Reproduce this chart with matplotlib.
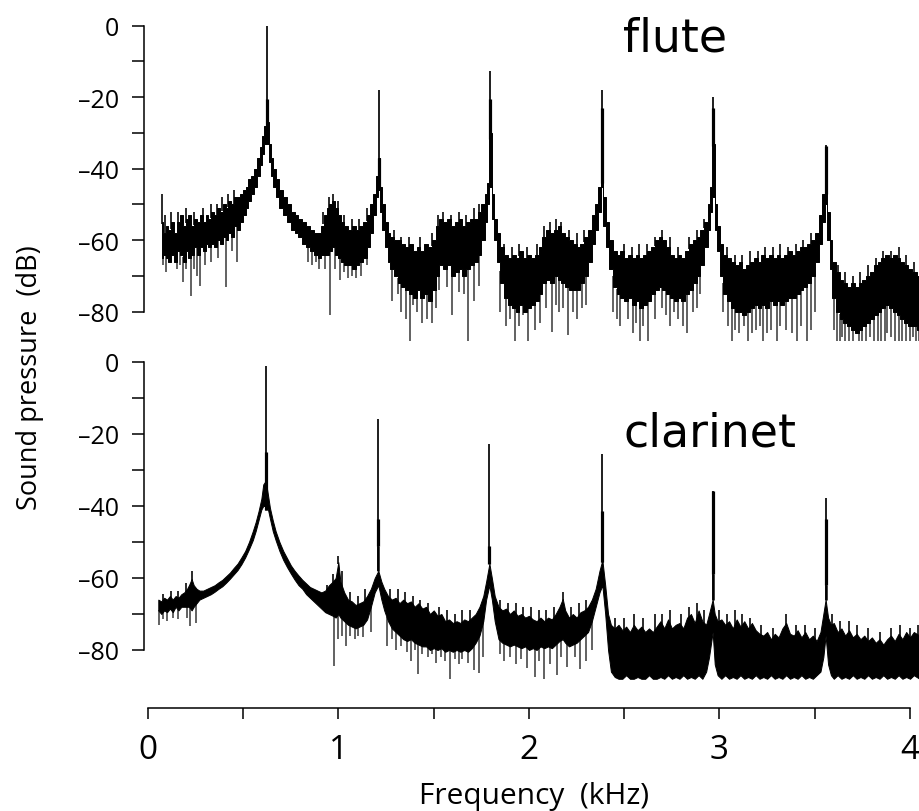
import numpy as np
import matplotlib
matplotlib.use("Agg")
import matplotlib.pyplot as plt

# ---------------- data ----------------
# flute spectrum: noise band (upper / lower edge) in dB vs frequency (kHz)
flute_f = [0.072, 0.085, 0.10, 0.115, 0.13, 0.145, 0.16, 0.175, 0.19, 0.205, 0.22, 0.235, 0.25, 0.265,
           0.28, 0.295, 0.31, 0.325, 0.34, 0.355, 0.37, 0.385, 0.40, 0.415, 0.43, 0.445, 0.46, 0.475,
           0.49, 0.505, 0.52, 0.535, 0.55, 0.565, 0.58, 0.595, 0.605, 0.615, 0.627, 0.64, 0.65, 0.665,
           0.68, 0.70, 0.72, 0.74, 0.76, 0.78, 0.80, 0.82, 0.84, 0.86, 0.88, 0.90, 0.915, 0.93, 0.945,
           0.96, 0.975, 0.99, 1.005, 1.02, 1.04, 1.06, 1.08, 1.10, 1.12, 1.14, 1.16, 1.175, 1.19, 1.20,
           1.213, 1.225, 1.235, 1.25, 1.265, 1.28, 1.30, 1.32, 1.34, 1.36, 1.38, 1.40, 1.42, 1.44, 1.46,
           1.48, 1.50, 1.52, 1.54, 1.56, 1.58, 1.60, 1.62, 1.64, 1.66, 1.68, 1.70, 1.72, 1.74, 1.76,
           1.775, 1.785, 1.797, 1.81, 1.825, 1.84, 1.86, 1.88, 1.90, 1.92, 1.94, 1.96, 1.98, 2.00, 2.02,
           2.04, 2.06, 2.08, 2.10, 2.12, 2.14, 2.16, 2.18, 2.20, 2.22, 2.24, 2.26, 2.28, 2.30, 2.32, 2.34,
           2.355, 2.37, 2.381, 2.395, 2.41, 2.43, 2.45, 2.47, 2.49, 2.51, 2.53, 2.55, 2.57, 2.59, 2.61,
           2.63, 2.65, 2.67, 2.69, 2.71, 2.73, 2.75, 2.77, 2.79, 2.81, 2.83, 2.85, 2.87, 2.89, 2.91, 2.93,
           2.945, 2.958, 2.968, 2.98, 2.995, 3.01, 3.03, 3.05, 3.07, 3.09, 3.11, 3.13, 3.15, 3.17, 3.19,
           3.21, 3.23, 3.25, 3.27, 3.29, 3.31, 3.33, 3.35, 3.37, 3.39, 3.41, 3.43, 3.45, 3.47, 3.49, 3.51,
           3.53, 3.545, 3.559, 3.57, 3.585, 3.60, 3.62, 3.64, 3.66, 3.68, 3.70, 3.72, 3.74, 3.76, 3.78,
           3.80, 3.82, 3.84, 3.86, 3.88, 3.90, 3.92, 3.94, 3.96, 3.98, 4.00, 4.02, 4.05]
flute_hi = [-55, -58, -56, -57, -55, -58, -55, -53, -56, -54, -53, -56, -54, -55,
            -53, -55, -53, -54, -52, -53, -51, -52, -50, -51, -49, -50, -48, -48,
            -47, -46, -45, -43, -42, -40, -37, -34, -31, -28, -27, -33, -37, -40,
            -43, -46, -48, -50, -52, -53, -54, -55, -56, -57, -58, -58, -56, -53, -51,
            -50, -49, -51, -53, -55, -56, -57, -56, -57, -56, -55, -53, -50, -47, -42,
            -37, -45, -50, -55, -58, -59, -60, -60, -61, -62, -61, -63, -62, -63, -61,
            -62, -60, -56, -54, -55, -54, -56, -55, -54, -56, -55, -54, -54, -52, -50,
            -47, -44, -30, -47, -54, -58, -62, -64, -65, -64, -65, -63, -65, -64, -65,
            -64, -62, -59, -57, -58, -57, -56, -58, -59, -60, -61, -62, -61, -59, -57, -53,
            -50, -45, -30, -48, -55, -60, -63, -64, -63, -65, -64, -65, -64, -65, -64,
            -63, -62, -60, -59, -60, -62, -64, -65, -64, -65, -63, -61, -60, -59, -57, -55,
            -50, -45, -33, -50, -56, -61, -64, -65, -66, -67, -66, -68, -67, -66, -65,
            -66, -64, -65, -64, -65, -64, -65, -64, -63, -64, -63, -62, -62, -61, -60, -58,
            -53, -47, -45, -52, -60, -66, -69, -71, -72, -73, -72, -73, -72, -71, -70,
            -69, -67, -66, -65, -64, -65, -64, -65, -66, -67, -68, -69, -70]
flute_lo = [-65, -64, -65, -66, -64, -66, -63, -64, -66, -63, -65, -64, -62, -64,
            -62, -63, -61, -62, -61, -62, -60, -61, -59, -60, -58, -59, -56, -57,
            -55, -53, -51, -49, -47, -45, -42, -39, -36, -33, -33, -38, -42, -45,
            -48, -51, -53, -55, -57, -58, -59, -61, -62, -63, -64, -65, -64, -64, -64,
            -63, -62, -64, -65, -66, -67, -67, -68, -67, -66, -65, -62, -58, -53, -48,
            -46, -52, -57, -62, -66, -68, -70, -72, -73, -74, -75, -76, -74, -76, -75,
            -77, -74, -70, -67, -68, -67, -70, -69, -68, -70, -68, -67, -66, -64, -60,
            -55, -50, -45, -54, -60, -66, -72, -76, -78, -79, -80, -78, -80, -79, -78,
            -77, -75, -72, -71, -72, -70, -71, -72, -73, -74, -74, -74, -72, -70, -66, -61,
            -57, -52, -45, -56, -62, -68, -73, -75, -76, -77, -76, -78, -77, -79, -78,
            -77, -75, -74, -73, -74, -75, -76, -77, -76, -77, -75, -74, -72, -70, -67, -62,
            -57, -52, -48, -57, -63, -70, -75, -77, -79, -80, -80, -81, -80, -79, -78,
            -79, -78, -79, -77, -78, -77, -78, -77, -76, -76, -75, -74, -73, -72, -70, -66,
            -61, -55, -50, -60, -68, -76, -80, -82, -83, -84, -85, -86, -85, -84, -83,
            -82, -81, -80, -79, -78, -79, -80, -81, -82, -83, -84, -84, -85]
# flute: narrow downward spikes below the band
flute_dip_f = [0.08, 0.095, 0.11, 0.15, 0.17, 0.184, 0.2, 0.226, 0.24, 0.255, 0.273, 0.30, 0.33, 0.37,
               0.408, 0.44, 0.466, 0.84, 0.86, 0.88, 0.90, 0.93, 0.955, 0.98, 1.01, 1.03, 1.05, 1.07,
               1.09, 1.12, 1.15, 1.279, 1.31, 1.33, 1.355, 1.375, 1.39, 1.41, 1.44, 1.463, 1.489, 1.51,
               1.53, 1.57, 1.594, 1.63, 1.66, 1.68, 1.71, 1.74, 1.85, 1.88, 1.9, 1.926, 1.95, 1.97,
               1.996, 2.03, 2.058, 2.09, 2.119, 2.14, 2.16, 2.18, 2.205, 2.23, 2.25, 2.28, 2.30, 2.44,
               2.46, 2.48, 2.52, 2.547, 2.56, 2.583, 2.6, 2.626, 2.66, 2.697, 2.72, 2.74, 2.76, 2.78,
               2.81, 2.828, 2.86, 2.88, 2.90, 3.02, 3.045, 3.064, 3.08, 3.10, 3.13, 3.15, 3.17, 3.19,
               3.21, 3.23, 3.25, 3.27, 3.30, 3.32, 3.35, 3.38, 3.405, 3.43, 3.458, 3.48, 3.50, 3.60,
               3.615, 3.63, 3.645, 3.66, 3.68, 3.70, 3.715, 3.73, 3.75, 3.77, 3.79, 3.81, 3.83, 3.85,
               3.87, 3.88, 3.90, 3.92, 3.94, 3.96, 3.98, 4.00, 4.015, 4.03, 4.045]
flute_dip_db = [-67, -69, -66, -68, -67, -71.6, -68, -75.5, -68, -70, -72.8, -67, -66, -65,
                -73, -63, -66, -66, -67, -66, -68, -68, -81, -68, -71, -69, -70.6, -70,
                -70.6, -70, -67, -77, -75, -80, -82, -88, -78, -80, -83, -82, -83, -79,
                -74, -73, -81, -74.5, -75, -88, -77, -72.8, -80, -84, -82, -88, -84, -81,
                -88, -85, -83, -79, -85.6, -78, -80, -79, -86.6, -80, -82, -79, -78, -80,
                -82, -84, -82, -86, -83, -88, -84, -88, -82, -79, -81, -84, -80, -82,
                -84, -86, -80, -79, -75, -80, -84, -88, -85, -86, -84, -88, -86, -85,
                -84, -88, -86, -85, -88, -84, -85, -86, -88, -84, -88, -85, -80, -85,
                -88, -88, -87, -88, -88, -88, -86, -88, -88, -88, -87, -88, -88, -88,
                -88, -86, -87, -88, -88, -88, -88, -88, -87, -88, -88]
# flute: narrow upward spikes above the band
flute_up_f = [0.072, 0.09, 0.12, 0.16, 0.20, 0.24, 0.29, 0.33, 0.36, 0.39, 0.42, 0.45, 0.92, 0.95,
              0.97, 1.00, 1.03, 1.07, 1.11, 1.15, 1.29, 1.33, 1.37, 1.43, 1.49, 1.52, 1.55, 1.59,
              1.63, 1.67, 1.71, 1.74, 1.87, 1.91, 1.95, 1.99, 2.04, 2.08, 2.11, 2.14, 2.17, 2.21,
              2.25, 2.29, 2.44, 2.50, 2.54, 2.58, 2.62, 2.66, 2.70, 2.74, 2.78, 2.84, 2.88, 2.92,
              3.04, 3.08, 3.12, 3.16, 3.20, 3.24, 3.28, 3.32, 3.36, 3.40, 3.44, 3.48, 3.62, 3.66,
              3.70, 3.74, 3.78, 3.82, 3.86, 3.90, 3.94, 3.98, 4.02]
flute_up_db = [-47, -53, -52, -52, -51, -52, -51, -50, -50, -48, -47, -46, -52, -48,
               -47, -49, -53, -54, -54, -51, -57, -59, -59, -59, -58, -53, -52, -53,
               -52, -53, -51, -50, -61, -62, -61, -62, -61, -56, -55, -54, -55, -57,
               -58, -57, -61, -61, -62, -61, -61, -59, -57, -59, -62, -59, -57, -54,
               -62, -64, -64, -63, -63, -62, -62, -61, -62, -61, -60, -58, -67, -69,
               -70, -69, -67, -65, -63, -63, -62, -64, -66]
# flute harmonics: top of peak and the darker core segment
flute_pk_f = [0.627, 1.213, 1.797, 2.381, 2.968, 3.559]
flute_pk_db = [0, -18, -12.8, -18, -20, -33.4]
flute_core_hi = [-20.5, -37, -20.5, -23, -23, -33.6]
flute_core_lo = [-29, -46, -31.7, -44, -33.6, -47]

# clarinet spectrum
clar_f = [0.054, 0.07, 0.085, 0.10, 0.115, 0.13, 0.145, 0.16, 0.175, 0.19, 0.205, 0.215, 0.229, 0.24,
          0.255, 0.27, 0.29, 0.31, 0.33, 0.35, 0.37, 0.39, 0.41, 0.43, 0.45, 0.47, 0.49, 0.51, 0.53,
          0.55, 0.565, 0.58, 0.595, 0.605, 0.618, 0.63, 0.64, 0.655, 0.67, 0.69, 0.71, 0.73, 0.75,
          0.77, 0.79, 0.81, 0.83, 0.85, 0.87, 0.89, 0.91, 0.93, 0.95, 0.97, 0.985, 0.999, 1.01, 1.03,
          1.05, 1.07, 1.09, 1.11, 1.13, 1.15, 1.17, 1.19, 1.209, 1.225, 1.24, 1.26, 1.28, 1.30, 1.32,
          1.34, 1.36, 1.38, 1.40, 1.42, 1.44, 1.46, 1.48, 1.50, 1.52, 1.54, 1.56, 1.58, 1.60, 1.62,
          1.64, 1.66, 1.68, 1.70, 1.72, 1.74, 1.76, 1.775, 1.792, 1.805, 1.82, 1.84, 1.86, 1.88, 1.90,
          1.92, 1.94, 1.96, 1.98, 2.00, 2.02, 2.04, 2.06, 2.08, 2.10, 2.12, 2.14, 2.16, 2.177, 2.19,
          2.21, 2.23, 2.25, 2.27, 2.29, 2.31, 2.33, 2.35, 2.37, 2.385, 2.40, 2.415, 2.43, 2.45, 2.47,
          2.49, 2.51, 2.53, 2.55, 2.57, 2.59, 2.61, 2.63, 2.65, 2.67, 2.69, 2.71, 2.73, 2.75, 2.77,
          2.79, 2.81, 2.83, 2.85, 2.87, 2.89, 2.91, 2.93, 2.945, 2.964, 2.975, 2.99, 3.01, 3.03, 3.05,
          3.07, 3.09, 3.11, 3.13, 3.15, 3.17, 3.19, 3.21, 3.23, 3.25, 3.27, 3.29, 3.31, 3.33, 3.35,
          3.37, 3.39, 3.41, 3.43, 3.45, 3.47, 3.49, 3.51, 3.53, 3.545, 3.557, 3.57, 3.585, 3.60, 3.62,
          3.64, 3.66, 3.68, 3.70, 3.72, 3.74, 3.76, 3.78, 3.80, 3.82, 3.84, 3.86, 3.88, 3.90, 3.92,
          3.94, 3.96, 3.98, 4.00, 4.02, 4.05]
clar_hi = [-66, -66.5, -65.5, -66, -65, -66, -65, -65.5, -64.5, -64, -63, -62, -60.3, -62,
           -63, -63.5, -63.5, -63, -62.5, -62, -61.2, -60.5, -59.5, -58.5, -57.2, -56, -54.3, -52.5, -50,
           -47, -44.5, -41.5, -38, -34, -33, -37, -40.5, -44, -47, -50, -52.5, -54.5, -56.5,
           -58, -59.3, -60.5, -61.5, -62.5, -63, -63.5, -64, -63.5, -62, -61, -60, -55.6, -61, -64,
           -66, -66.5, -67.5, -67, -66.5, -65, -63, -60, -58, -61, -63, -65, -66, -65.5, -67,
           -66, -67, -66.5, -68, -67, -68.5, -68, -70, -69, -70.5, -70, -72, -71.5, -72.5, -72,
           -72.5, -71.5, -72, -71, -70, -68, -65, -61, -56, -60, -65, -68, -69, -68.5, -70,
           -69, -70.5, -70, -71, -70.5, -71.5, -72, -71, -72, -71, -71.5, -70, -68, -65.8, -69,
           -71, -70, -71, -69.5, -69, -68, -66, -63, -58, -55, -62, -70, -73, -74, -73,
           -74.5, -73.5, -75, -73, -74.5, -73.5, -75, -74, -75, -73.5, -72, -74, -71.5, -74, -73,
           -72.5, -74, -71, -70, -72.5, -69, -72, -73, -70, -66, -70, -72, -71.5, -73, -72,
           -74, -71.5, -73.5, -72, -74, -72.5, -74.5, -75.5, -76, -75, -77, -75.5, -76.5, -74, -72.5,
           -75.5, -76, -74.5, -76.5, -75, -77, -76, -77.5, -75, -70, -66, -71, -73, -72.5, -75,
           -74, -76, -74.5, -76.5, -75.5, -77, -76, -77.5, -76.5, -78, -77, -78.5, -77, -76, -77.5,
           -75.5, -77, -75, -76.5, -75, -76]
clar_lo = [-69, -70, -69, -69.5, -68.5, -69.5, -68, -69, -68, -68, -68, -68, -69, -68,
           -67, -66, -65.5, -65, -64.5, -63.8, -63, -62.3, -61.3, -60.2, -59, -57.8, -56.2, -54.3, -52,
           -49.5, -47, -44, -41, -40, -40, -41, -43.5, -47, -49.5, -52.5, -55, -57, -58.8,
           -60.5, -62, -63, -64.5, -65.5, -66.5, -67.5, -68.5, -69.5, -70, -70.5, -71, -70, -71, -72,
           -73, -73.5, -74, -73.5, -73, -71.5, -68, -64, -62, -66, -69, -72, -74, -75, -76,
           -77, -77.5, -77, -78, -78.5, -79, -79, -80, -79.5, -80, -79.5, -80.5, -80, -80.5, -80,
           -80.5, -80, -80.5, -79.5, -78, -76, -72, -66, -62, -66, -72, -77, -78, -78.5, -79,
           -78.5, -79, -79.5, -79, -80, -79.5, -80, -79, -79.5, -79, -79.5, -78.5, -77.5, -77, -78,
           -79, -78.5, -78, -77, -76, -75, -72, -68, -64, -62, -70, -80, -86, -87.5, -88,
           -88, -87, -88, -88, -87.5, -88, -88, -87, -88, -88, -87.5, -88, -87, -88, -87.5,
           -88, -87, -88, -87.5, -88, -87, -88, -86, -82, -75, -84, -87, -88, -87, -88,
           -87.5, -88, -87, -88, -87.5, -88, -87, -88, -87.5, -88, -87, -88, -87.5, -88, -87,
           -88, -87.5, -88, -87, -88, -87.5, -88, -87, -86, -82, -76, -84, -87, -88, -87,
           -88, -87.5, -88, -87, -88, -87.5, -88, -87, -88, -87.5, -88, -87, -88, -87.5, -88,
           -87, -88, -87.5, -88, -87, -88]
clar_dip_f = [0.06, 0.08, 0.10, 0.13, 0.16, 0.205, 0.222, 0.25, 0.976, 1.00, 1.02, 1.04, 1.06, 1.085,
              1.1, 1.13, 1.168, 1.255, 1.28, 1.30, 1.33, 1.36, 1.38, 1.40, 1.419, 1.44, 1.47, 1.49,
              1.51, 1.54, 1.56, 1.585, 1.61, 1.63, 1.65, 1.68, 1.71, 1.74, 1.76, 1.85, 1.87, 1.9, 1.93,
              1.96, 1.99, 2.03, 2.05, 2.079, 2.11, 2.145, 2.17, 2.20, 2.24, 2.268, 2.30, 2.33]
clar_dip_db = [-73, -71.5, -72, -71, -71.5, -71, -73.3, -72.5, -84.5, -77, -76, -78.8, -76, -77,
               -76, -76.5, -75, -79, -77, -80, -79, -80.5, -83, -80, -86.7, -81, -82, -81,
               -83.5, -82, -83, -88.5, -82.5, -84, -82.5, -83.5, -85.6, -86.5, -82, -81, -83, -82, -84,
               -82.5, -85, -87.5, -83, -88, -84, -87, -82, -84.7, -82, -85.3, -83, -80]
clar_up_f = [0.08, 0.12, 0.16, 0.20, 0.229, 0.94, 0.97, 0.999, 1.02, 1.06, 1.10, 1.14, 1.27, 1.31,
             1.35, 1.39, 1.43, 1.47, 1.53, 1.57, 1.61, 1.65, 1.69, 1.85, 1.89, 1.93, 1.97, 2.01,
             2.05, 2.09, 2.13, 2.177, 2.22, 2.26, 2.30, 2.45, 2.50, 2.55, 2.60, 2.66, 2.70, 2.74,
             2.80, 2.84, 2.88, 2.92, 3.00, 3.04, 3.08, 3.12, 3.16, 3.22, 3.28, 3.35, 3.40, 3.45,
             3.50, 3.59, 3.63, 3.68, 3.72, 3.78, 3.84, 3.90, 3.95, 4.00, 4.04]
clar_up_db = [-64.5, -63.5, -63.5, -61.5, -58, -62, -59, -54, -58, -64, -65, -63, -63, -63,
              -64, -65, -66, -67, -68, -69, -70, -69, -69, -66, -67, -67, -68, -68,
              -69, -69, -68, -64, -68, -67, -66, -71, -71, -70, -71, -70, -70, -69,
              -70, -68, -67, -69, -69, -70, -69, -70, -71, -73, -74, -70, -73, -73,
              -74, -70, -72, -72, -73, -74, -75, -74, -73, -74, -73]
clar_pk_f = [0.618, 1.209, 1.792, 2.385, 2.964, 3.557]
clar_pk_db = [-1.2, -15.8, -22.8, -25.6, -35.7, -37.9]
clar_core_hi = [-25, -43.6, -51, -41.4, -35.7, -43.6]
clar_core_lo = [-41, -51, -56, -55.6, -58.9, -62]

x_ticks = [0, 0.5, 1, 1.5, 2, 2.5, 3, 3.5, 4]
x_ticklabels = ["0", "", "1", "", "2", "", "3", "", "4"]
y_ticks = [-80, -70, -60, -50, -40, -30, -20, -10, 0]
y_ticklabels = ["\u201380", "", "\u201360", "", "\u201340", "", "\u201320", "", "0"]

# ---------------- figure ----------------
W, H = 920, 812
fig = plt.figure(figsize=(W / 100, H / 100), dpi=100)


def box(x0, y0, x1, y1):
    return [x0 / W, 1 - y1 / H, (x1 - x0) / W, (y1 - y0) / H]


XMAX = (920 - 148) / 190.5
lab_font = "Open Sans"


def panel(rect, f, hi, lo, dip_f, dip_db, up_f, up_db, pk_f, pk_db, core_hi, core_lo, step):
    ax = fig.add_axes(rect)
    ax.set_xlim(0, XMAX)
    ax.set_ylim(-88, 3)
    f = np.asarray(f)
    hi = np.asarray(hi)
    lo = np.asarray(lo)
    ax.fill_between(f, lo, hi, color="black", lw=0.7, zorder=2, step=step)
    dip_f = np.asarray(dip_f)
    ax.vlines(dip_f, dip_db, np.interp(dip_f, f, lo) + 0.5, color="0.28", lw=1.2, zorder=1)
    up_f = np.asarray(up_f)
    ax.vlines(up_f, np.interp(up_f, f, hi) - 0.5, up_db, color="0.1", lw=1.3, zorder=1)
    pk_f = np.asarray(pk_f)
    base = np.interp(pk_f, f, hi)
    ax.vlines(pk_f, base, pk_db, color="0.05", lw=1.3, zorder=3)
    ax.vlines(pk_f, core_lo, core_hi, color="black", lw=2.3, zorder=3)
    ax.vlines(pk_f, base, core_lo, color="black", lw=1.8, zorder=3)
    for s in ("top", "right", "bottom"):
        ax.spines[s].set_visible(False)
    ax.spines["left"].set_bounds(-80, 0)
    ax.spines["left"].set_position(("outward", 3))
    ax.spines["left"].set_linewidth(1.1)
    ax.set_yticks(y_ticks)
    ax.set_yticklabels(y_ticklabels, fontfamily=lab_font, fontsize=18)
    ax.tick_params(axis="y", length=9, width=1.1, pad=9)
    ax.patch.set_alpha(0)
    return ax


ax1 = panel(box(148, 15.8, 920, 341.5), flute_f, flute_hi, flute_lo, flute_dip_f, flute_dip_db,
            flute_up_f, flute_up_db, flute_pk_f, flute_pk_db, flute_core_hi, flute_core_lo, "mid")
ax1.set_xticks([])

ax2 = panel(box(148, 352.2, 920, 679.8), clar_f, clar_hi, clar_lo, clar_dip_f, clar_dip_db,
            clar_up_f, clar_up_db, clar_pk_f, clar_pk_db, clar_core_hi, clar_core_lo, None)
ax2.spines["bottom"].set_visible(True)
ax2.spines["bottom"].set_bounds(0, 4)
ax2.spines["bottom"].set_position(("outward", 21))
ax2.spines["bottom"].set_linewidth(1.1)
ax2.set_xticks(x_ticks)
ax2.set_xticklabels(x_ticklabels, fontfamily=lab_font, fontsize=24)
ax2.tick_params(axis="x", length=8, width=1.1, pad=10)
ax2.set_xlabel("Frequency  (kHz)", fontfamily=lab_font, fontsize=21.5, labelpad=11)

fig.text(30 / W, 1 - 378 / H, "Sound pressure  (dB)", rotation=90, ha="center", va="center",
         fontfamily=lab_font, fontsize=19.5)
fig.text(623 / W, 1 - 52 / H, "flute", ha="left", va="baseline", fontfamily="DejaVu Sans", fontsize=33)
fig.text(623 / W, 1 - 447 / H, "clarinet", ha="left", va="baseline", fontfamily="DejaVu Sans", fontsize=33)

fig.savefig("out.png", dpi=100)
